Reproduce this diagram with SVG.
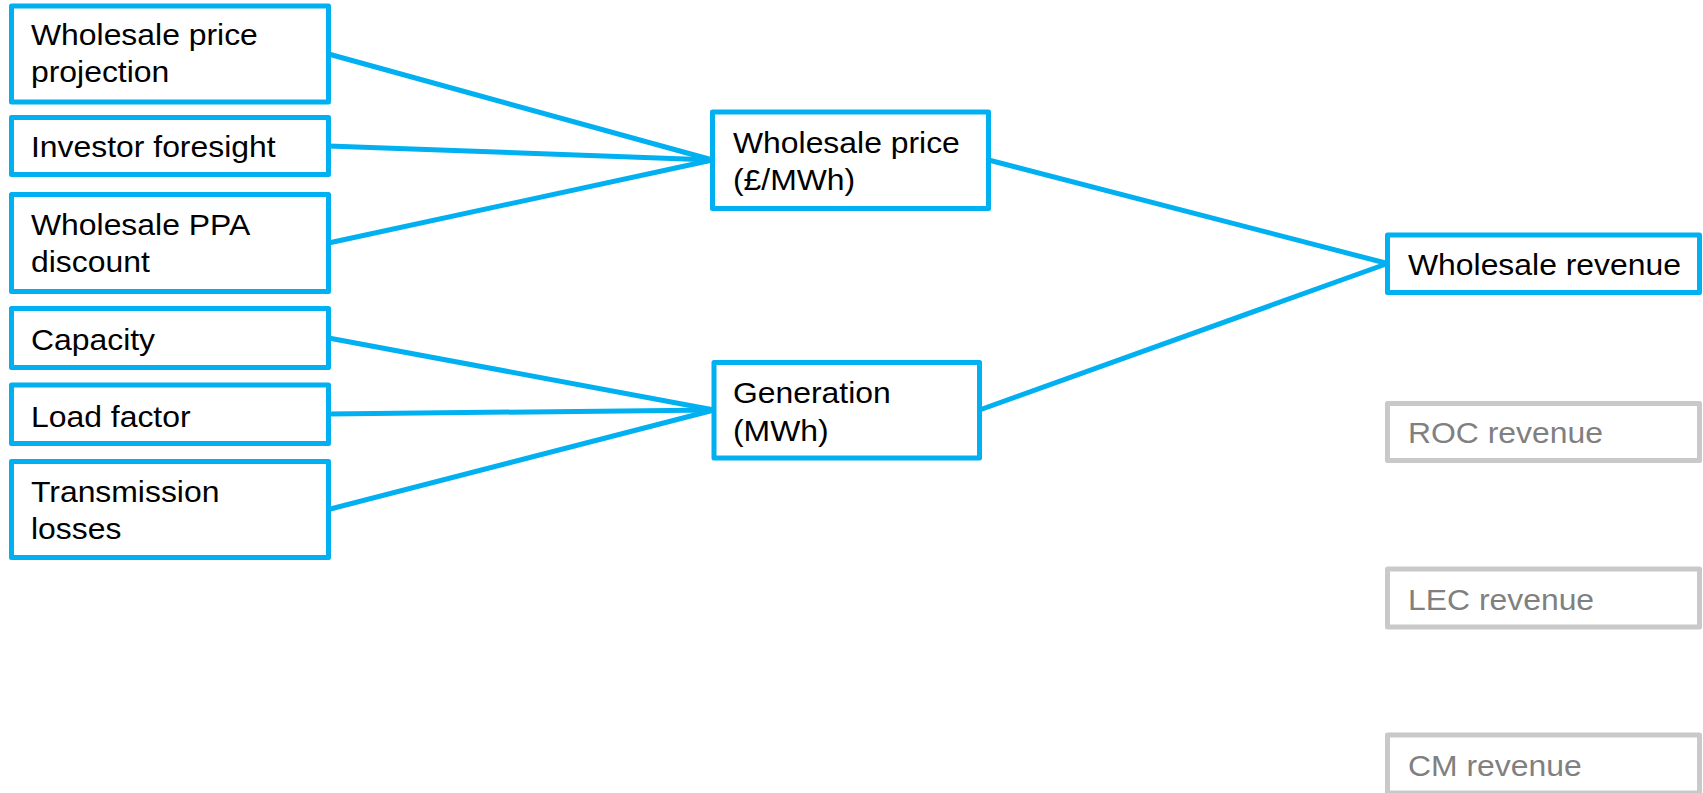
<svg xmlns="http://www.w3.org/2000/svg" width="1703" height="793" viewBox="0 0 1703 793">
  <style>
    .box { fill: #ffffff; stroke: #00b0f0; stroke-width: 5; stroke-linejoin: round; }
    .box.muted { stroke: #c9c9c9; }
    .label { font-family: "Liberation Sans", Arial, sans-serif; font-size: 29px; fill: #000000; }
    .label.muted { fill: #808080; }
    .link { stroke: #00b0f0; stroke-width: 5; fill: none; stroke-linecap: butt; }
  </style>

  <!-- connectors -->
  <g id="connectors">
    <line class="link" x1="328.5" y1="54" x2="712.5" y2="160"/>
    <line class="link" x1="328.5" y1="146" x2="712.5" y2="160"/>
    <line class="link" x1="328.5" y1="243" x2="712.5" y2="160"/>
    <line class="link" x1="328.5" y1="338" x2="714" y2="410"/>
    <line class="link" x1="328.5" y1="414" x2="714" y2="410"/>
    <line class="link" x1="328.5" y1="509.5" x2="714" y2="410"/>
    <line class="link" x1="988.5" y1="160" x2="1387.5" y2="263.5"/>
    <line class="link" x1="979.5" y1="410" x2="1387.5" y2="263.5"/>
  </g>

  <!-- input drivers -->
  <g id="wholesale-price-projection">
    <rect class="box" x="11.5" y="6" width="317" height="96"/>
    <text class="label" transform="translate(31 45) scale(1.1 1)"><tspan x="0" y="0">Wholesale price</tspan><tspan x="0" y="37">projection</tspan></text>
  </g>
  <g id="investor-foresight">
    <rect class="box" x="11.5" y="117.5" width="317" height="57"/>
    <text class="label" transform="translate(31 156.5) scale(1.1 1)"><tspan x="0" y="0">Investor foresight</tspan></text>
  </g>
  <g id="wholesale-ppa-discount">
    <rect class="box" x="11.5" y="194.5" width="317" height="97"/>
    <text class="label" transform="translate(31 235) scale(1.1 1)"><tspan x="0" y="0">Wholesale PPA</tspan><tspan x="0" y="37">discount</tspan></text>
  </g>
  <g id="capacity">
    <rect class="box" x="11.5" y="308.5" width="317" height="59"/>
    <text class="label" transform="translate(31 350) scale(1.1 1)"><tspan x="0" y="0">Capacity</tspan></text>
  </g>
  <g id="load-factor">
    <rect class="box" x="11.5" y="385" width="317" height="58.5"/>
    <text class="label" transform="translate(31 426.5) scale(1.1 1)"><tspan x="0" y="0">Load factor</tspan></text>
  </g>
  <g id="transmission-losses">
    <rect class="box" x="11.5" y="461.5" width="317" height="96"/>
    <text class="label" transform="translate(31 501.5) scale(1.1 1)"><tspan x="0" y="0">Transmission</tspan><tspan x="0" y="38">losses</tspan></text>
  </g>

  <!-- intermediate quantities -->
  <g id="wholesale-price">
    <rect class="box" x="712.5" y="112" width="276" height="96.5"/>
    <text class="label" transform="translate(733 152.5) scale(1.1 1)"><tspan x="0" y="0">Wholesale price</tspan><tspan x="0" y="38">(£/MWh)</tspan></text>
  </g>
  <g id="generation">
    <rect class="box" x="714" y="362.5" width="265.5" height="95.5"/>
    <text class="label" transform="translate(733 403) scale(1.1 1)"><tspan x="0" y="0">Generation</tspan><tspan x="0" y="38">(MWh)</tspan></text>
  </g>

  <!-- revenue streams -->
  <g id="wholesale-revenue">
    <rect class="box" x="1387.5" y="235" width="312" height="57.5"/>
    <text class="label" transform="translate(1408 275) scale(1.1 1)"><tspan x="0" y="0">Wholesale revenue</tspan></text>
  </g>
  <g id="roc-revenue">
    <rect class="box muted" x="1387.5" y="403.5" width="312" height="57"/>
    <text class="label muted" transform="translate(1408 442.5) scale(1.1 1)"><tspan x="0" y="0">ROC revenue</tspan></text>
  </g>
  <g id="lec-revenue">
    <rect class="box muted" x="1387.5" y="569" width="312" height="58"/>
    <text class="label muted" transform="translate(1408 610) scale(1.1 1)"><tspan x="0" y="0">LEC revenue</tspan></text>
  </g>
  <g id="cm-revenue">
    <rect class="box muted" x="1387.5" y="735" width="312" height="58"/>
    <text class="label muted" transform="translate(1408 775.5) scale(1.1 1)"><tspan x="0" y="0">CM revenue</tspan></text>
  </g>
</svg>
